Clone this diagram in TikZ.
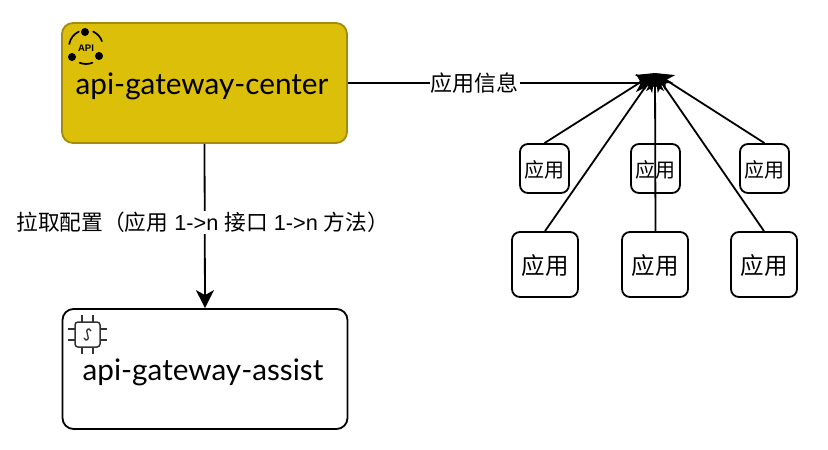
\documentclass[tikz,border=0pt]{standalone}
\usepackage{fontspec}
\setmainfont{Liberation Sans}
\newfontfamily\cjk{Noto Sans CJK SC}
\newfontfamily\svcfont{Lato}
\usetikzlibrary{arrows.meta}
\definecolor{svcfill}{HTML}{DBBF08}
\definecolor{svcline}{HTML}{A58B0B}
\definecolor{chipline}{HTML}{333333}
\tikzstyle{arrow}   = [line width=1.8pt,-{Stealth[length=18pt,width=18pt,inset=5pt]}]
\tikzstyle{service} = [line width=1.8pt, draw, rounded corners=11pt, minimum width=285pt, minimum height=120pt, inner sep=0pt]
\tikzstyle{svctext} = [font=\svcfont\fontsize{29.7}{32}\selectfont, inner sep=0pt]
\tikzstyle{small}   = [line width=1.8pt, draw, fill=white, rounded corners=8pt, minimum width=49pt, minimum height=49pt, inner sep=0pt, text height=20.6pt, text depth=2.4pt, font=\cjk\fontsize{20}{22}\selectfont]
\tikzstyle{big}     = [line width=1.8pt, draw, fill=white, rounded corners=8pt, minimum width=66pt, minimum height=65pt, inner sep=0pt, text height=22.7pt, text depth=2.8pt, font=\cjk\fontsize{23.5}{26}\selectfont]
\tikzstyle{label}   = [fill=white, inner sep=1pt, font=\fontsize{21.7}{24}\selectfont]
\begin{document}
\begin{tikzpicture}[x=1pt,y=-1pt]
\useasboundingbox (0,0) rectangle (828,450);

\node[service,fill=svcfill,draw=svcline] (center) at (204.5,83) {};
\node[service] (assist) at (205,369) {};
\node[svctext] (centerText) at (202,86) {api-gateway-center};
\node[svctext] (assistText) at (203,372) {api-gateway-assist};

\coordinate (hub) at (655,73);
\coordinate (hubLeft) at (654,83);

% apps
\node[small] (S1) at (544.5,168.5) {应用};
\node[small] (S2) at (655.5,168.5) {应用};
\node[small] (S3) at (764.5,168.5) {应用};
\node[big] (B1) at (545,264.5) {应用};
\node[big] (B2) at (655,264.5) {应用};
\node[big] (B3) at (764,264.5) {应用};

\draw[arrow] (center) -- node[label,pos=0.415,font=\cjk\fontsize{22}{24}\selectfont] (infoText) {应用信息} (center.east -| hubLeft);
\draw[arrow] (S1.north) -- (hub);
\draw[arrow] (S2.north |- B2.north) -- (hub);
\draw[arrow] (S3.north) -- (hub);
\draw[arrow] (B1.north) -- (hub);
\draw[arrow] (B3.north) -- (hub);

\draw[arrow] (center.south) -- node[label,pos=0.48,xshift=-2pt] (pullText) {{\cjk 拉取配置（应用} 1->n {\cjk 接口} 1->n {\cjk 方法）}} (assist.north);

% api icon
\fill (85,32) circle (4pt);
\fill (72,57) circle (4pt);
\fill (99,56) circle (4pt);
\draw[line width=1.7pt,line cap=round] (86,47) ++(20:17pt) arc[start angle=20,end angle=65,radius=17pt];
\draw[line width=1.7pt,line cap=round] (86,47) ++(115:17pt) arc[start angle=115,end angle=170,radius=17pt];
\draw[line width=1.7pt,line cap=round] (86,47) ++(-112:17pt) arc[start angle=-112,end angle=-68,radius=17pt];
\node[inner sep=0pt,font=\bfseries\fontsize{9.5}{10}\selectfont] (apiText) at (86,48) {API};

% chip icon
\draw[chipline,line width=1.5pt,rounded corners=3pt] (75,322) rectangle (100,347);
\foreach \p in {82,93} {
  \draw[chipline,line width=1.5pt] (\p,315) -- (\p,322);
  \draw[chipline,line width=1.5pt] (\p,347) -- (\p,354);
}
\foreach \p in {329,340} {
  \draw[chipline,line width=1.5pt] (68,\p) -- (75,\p);
  \draw[chipline,line width=1.5pt] (100,\p) -- (107,\p);
}
\draw[chipline,line width=1.3pt,line cap=round] (91,331) .. controls (89,327) and (85,329) .. (87.5,334.5) .. controls (90,340) and (86,342) .. (84,338);

\end{tikzpicture}
\end{document}
